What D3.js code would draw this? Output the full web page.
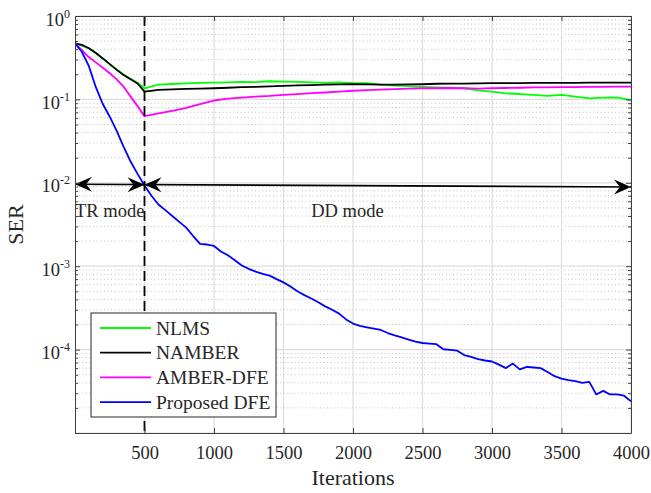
<!DOCTYPE html>
<html lang="en">
<head>
  <meta charset="UTF-8" />
  <title>SER vs Iterations</title>
  <script src="https://d3js.org/d3.v7.min.js"></script>
  <style>
    body {
      margin: 0;
      background: #fff;
    }
    svg text {
      font-family: "Liberation Serif", "Times New Roman", serif;
      fill: #262626;
    }
    .axis path, .axis line {
      stroke: #404040;
      stroke-width: 1;
    }
  </style>
</head>
<body>
  <svg width="651" height="493"></svg>

  <script>
    // data
    const iterations = [0, 50, 100, 150, 200, 250, 300, 350, 400, 450, 500,
      600, 700, 800, 900, 1000, 1100, 1200, 1300, 1400, 1500, 1600, 1700, 1800, 1900, 2000,
      2100, 2200, 2300, 2400, 2500, 2600, 2700, 2800, 2900, 3000, 3100, 3200, 3300, 3400,
      3500, 3600, 3700, 3800, 3900, 4000];

    const nlms = [0.47, 0.44, 0.41, 0.36, 0.31, 0.265, 0.228, 0.198, 0.176, 0.158, 0.136,
      0.150, 0.153, 0.156, 0.158, 0.159, 0.160, 0.162, 0.161, 0.165, 0.163, 0.162, 0.160, 0.158, 0.160, 0.157,
      0.157, 0.150, 0.146, 0.144, 0.141, 0.139, 0.138, 0.136, 0.128, 0.124, 0.118, 0.116, 0.113, 0.110,
      0.113, 0.108, 0.103, 0.105, 0.106, 0.098];

    const namber = [0.47, 0.45, 0.41, 0.36, 0.31, 0.265, 0.226, 0.196, 0.174, 0.155, 0.124,
      0.130, 0.132, 0.134, 0.135, 0.136, 0.138, 0.140, 0.141, 0.143, 0.145, 0.147, 0.148, 0.150, 0.151, 0.152,
      0.151, 0.150, 0.150, 0.151, 0.152, 0.154, 0.155, 0.155, 0.156, 0.157, 0.157, 0.157, 0.158, 0.158,
      0.158, 0.158, 0.159, 0.159, 0.159, 0.159];

    const amberDfe = [0.47, 0.39, 0.32, 0.278, 0.240, 0.206, 0.174, 0.142, 0.108, 0.083, 0.063,
      0.068, 0.073, 0.079, 0.088, 0.097, 0.102, 0.105, 0.108, 0.110, 0.113, 0.116, 0.119, 0.121, 0.124, 0.127,
      0.129, 0.131, 0.133, 0.135, 0.136, 0.136, 0.137, 0.136, 0.135, 0.136, 0.137, 0.138, 0.139, 0.139,
      0.140, 0.140, 0.141, 0.141, 0.142, 0.142];

    // proposed DFE is noisier, read at a finer step
    const proposedIter = [0, 50, 100, 150, 200, 250, 300, 350, 400, 450, 500,
      550, 600, 650, 700, 750, 800, 850, 900, 950, 1000, 1050, 1100, 1150, 1200, 1250, 1300, 1350, 1400, 1450,
      1500, 1550, 1600, 1650, 1700, 1750, 1800, 1850, 1900, 1950, 2000, 2050, 2100, 2150, 2200, 2250, 2300, 2350,
      2400, 2450, 2500, 2550, 2600, 2650, 2700, 2750, 2800, 2850, 2900, 2950, 3000, 3050, 3100, 3150, 3200, 3250,
      3300, 3350, 3400, 3450, 3500, 3550, 3600, 3650, 3700, 3750, 3800, 3850, 3900, 3950, 4000];

    const proposedDfe = [0.47, 0.37, 0.25, 0.14, 0.088, 0.062, 0.042, 0.027, 0.018, 0.0128, 0.0093,
      0.0070, 0.0055, 0.0047, 0.0040, 0.0034, 0.0029, 0.0023, 0.00185, 0.00182, 0.00175, 0.00150, 0.00135, 0.00118, 0.00102, 0.00093, 0.00086, 0.00081, 0.00077, 0.00070,
      0.00064, 0.00057, 0.00050, 0.00045, 0.00041, 0.00037, 0.00033, 0.00030, 0.00027, 0.00023, 0.000205, 0.000192, 0.000185, 0.000178, 0.000172, 0.000158, 0.000148, 0.000140,
      0.000132, 0.000125, 0.000120, 0.000118, 0.000116, 0.000101, 0.000099, 0.000097, 0.000086, 0.000082, 0.000077, 0.000074, 0.000072, 0.000066, 0.000060, 0.000068, 0.000058, 0.000062,
      0.000061, 0.000060, 0.000054, 0.000048, 0.000045, 0.000043, 0.000042, 0.000040, 0.000041, 0.000029, 0.000032, 0.000029, 0.000029, 0.000028, 0.000024];

    const seriesNames = ["NLMS", "NAMBER", "AMBER-DFE", "Proposed DFE"];
    const seriesColors = ["#00ff00", "#000000", "#ff00ff", "#0000ff"];

    const xTicks = [500, 1000, 1500, 2000, 2500, 3000, 3500, 4000];
    const yTickExps = [0, -1, -2, -3, -4];

    // mode annotation: switch point and double arrows
    const switchIter = 500;
    const arrowX = [0, 500, 4000];
    const arrowY = [0.0096, 0.0095, 0.0089];
    const modeLabels = [
      { text: "TR mode", it: 0, anchor: "start" },
      { text: "DD mode", it: 1960, anchor: "middle" }
    ];
    const modeLabelValue = 0.0039;

    const svg = d3.select("svg"),
          margin = { top: 16, right: 20, bottom: 60, left: 75 },
          width = 651 - margin.left - margin.right,
          height = 493 - margin.top - margin.bottom,
          g = svg.append("g").attr("transform", `translate(${margin.left},${margin.top})`);

    const x = d3.scaleLinear().domain([0, 4000]).range([0, width]);
    const y = d3.scaleLog().domain([1e-5, 1]).range([height, 0]);

    const yMajor = [0, -1, -2, -3, -4, -5].map(e => Math.pow(10, e));
    const yMinor = [];
    [-1, -2, -3, -4, -5].forEach(e => {
      for (let k = 2; k <= 9; k++) yMinor.push(k * Math.pow(10, e));
    });

    // grid
    g.append("g").selectAll("line")
      .data(yMinor)
      .join("line")
      .attr("x1", 0).attr("x2", width)
      .attr("y1", d => y(d)).attr("y2", d => y(d))
      .attr("stroke", "#bdbdbd")
      .attr("stroke-width", 1)
      .attr("stroke-dasharray", "1,2.6");

    g.append("g").selectAll("line")
      .data(yMajor)
      .join("line")
      .attr("x1", 0).attr("x2", width)
      .attr("y1", d => y(d)).attr("y2", d => y(d))
      .attr("stroke", "#dedede")
      .attr("stroke-width", 1.2);

    g.append("g").selectAll("line")
      .data(xTicks)
      .join("line")
      .attr("x1", d => x(d)).attr("x2", d => x(d))
      .attr("y1", 0).attr("y2", height)
      .attr("stroke", "#dedede")
      .attr("stroke-width", 1.2);

    // curves
    const clip = svg.append("defs").append("clipPath").attr("id", "plotclip");
    clip.append("rect").attr("width", width).attr("height", height);

    const series = [
      { xs: iterations, ys: nlms },
      { xs: iterations, ys: namber },
      { xs: iterations, ys: amberDfe },
      { xs: proposedIter, ys: proposedDfe }
    ];

    g.append("g")
      .attr("clip-path", "url(#plotclip)")
      .selectAll("path")
      .data(series)
      .join("path")
      .attr("d", s => d3.line().x((d, i) => x(s.xs[i])).y(d => y(d))(s.ys))
      .attr("fill", "none")
      .attr("stroke", (d, i) => seriesColors[i])
      .attr("stroke-width", 1.8)
      .attr("stroke-linejoin", "round");

    // switch line
    g.append("line")
      .attr("x1", x(switchIter)).attr("x2", x(switchIter))
      .attr("y1", y(1)).attr("y2", y(1e-5))
      .attr("stroke", "#000")
      .attr("stroke-width", 1.8)
      .attr("stroke-dasharray", "10,5");

    // double arrows
    const ax = arrowX.map(v => x(v)), ay = arrowY.map(v => y(v));
    g.append("line")
      .attr("x1", ax[0]).attr("y1", ay[0])
      .attr("x2", ax[2]).attr("y2", ay[2])
      .attr("stroke", "#000")
      .attr("stroke-width", 1.6);

    const headL = 17, headW = 7.5;
    function head(px, py, dir) {
      const p = [[0, 0], [-headL, -headW], [-headL * 0.65, 0], [-headL, headW]]
        .map(([a, b]) => [px + dir * a, py + b]);
      g.append("path")
        .attr("d", "M" + p.map(q => q.join(",")).join("L") + "Z")
        .attr("fill", "#000");
    }
    head(ax[0], ay[0], -1);
    head(ax[1], ay[1], 1);
    head(ax[1], ay[1], -1);
    head(ax[2], ay[2], 1);

    g.selectAll(".mode")
      .data(modeLabels)
      .join("text")
      .attr("class", "mode")
      .attr("x", d => x(d.it))
      .attr("y", y(modeLabelValue))
      .attr("text-anchor", d => d.anchor)
      .style("font-size", "18.5px")
      .text(d => d.text);

    // axes (box on, ticks inward)
    g.append("g").attr("class", "axis")
      .attr("transform", `translate(0,${height})`)
      .call(d3.axisBottom(x).tickValues(xTicks).tickSize(-5).tickSizeOuter(0).tickPadding(13).tickFormat(d3.format("d")))
      .call(a => a.selectAll("text").style("font-size", "18.5px").attr("fill", "#262626"));

    g.append("g").attr("class", "axis")
      .call(d3.axisTop(x).tickValues(xTicks).tickSize(-5).tickSizeOuter(0).tickFormat(""));

    g.append("g").attr("class", "axis")
      .call(d3.axisLeft(y).tickValues(yMajor).tickSize(-5).tickSizeOuter(0).tickFormat(""));
    g.append("g").attr("class", "axis")
      .call(d3.axisLeft(y).tickValues(yMinor).tickSize(-3).tickSizeOuter(0).tickFormat(""))
      .select(".domain").remove();

    g.append("g").attr("class", "axis")
      .attr("transform", `translate(${width},0)`)
      .call(d3.axisRight(y).tickValues(yMajor).tickSize(-5).tickSizeOuter(0).tickFormat(""));
    g.append("g").attr("class", "axis")
      .attr("transform", `translate(${width},0)`)
      .call(d3.axisRight(y).tickValues(yMinor).tickSize(-3).tickSizeOuter(0).tickFormat(""))
      .select(".domain").remove();

    // y tick labels as 10^n
    const yl = g.append("g").selectAll("text")
      .data(yTickExps)
      .join("text")
      .attr("x", -5)
      .attr("y", d => y(Math.pow(10, d)) + 9.5)
      .attr("text-anchor", "end")
      .style("font-size", "18.5px");
    yl.append("tspan").text("10");
    yl.append("tspan")
      .attr("dy", -8)
      .style("font-size", "12px")
      .text(d => d === 0 ? "0" : "-" + Math.abs(d));

    // axis titles
    g.append("text")
      .attr("x", width / 2)
      .attr("y", height + 52)
      .attr("text-anchor", "middle")
      .style("font-size", "22px")
      .text("Iterations");

    g.append("text")
      .attr("transform", `translate(${-52},${height / 2}) rotate(-90)`)
      .attr("text-anchor", "middle")
      .style("font-size", "22px")
      .text("SER");

    // legend
    const legend = svg.append("g").attr("transform", "translate(91,313)");
    legend.append("rect")
      .attr("width", 185)
      .attr("height", 104)
      .attr("fill", "#fff")
      .attr("stroke", "#262626")
      .attr("stroke-width", 1);

    const rows = legend.selectAll(".row")
      .data(seriesNames)
      .join("g")
      .attr("class", "row")
      .attr("transform", (d, i) => `translate(0,${15 + i * 24.7})`);
    rows.append("line")
      .attr("x1", 9).attr("x2", 60)
      .attr("stroke", (d, i) => seriesColors[i])
      .attr("stroke-width", 1.8);
    rows.append("text")
      .attr("x", 65)
      .attr("y", 6.5)
      .style("font-size", "19.5px")
      .text(d => d);
  </script>
</body>
</html>
